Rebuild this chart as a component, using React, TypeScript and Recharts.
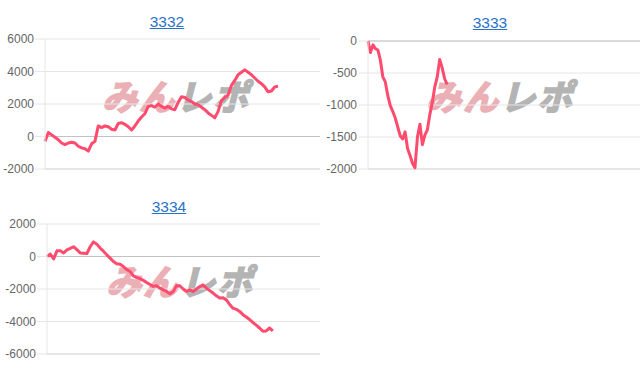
import { LineChart, Line, XAxis, YAxis, CartesianGrid, ReferenceLine } from 'recharts';

// 収支推移 (machine 3332 / 3333 / 3334)
const titles = ['3332', '3333', '3334'];

const values3332 = [
  -300, 250, 100, -50, -200, -400, -500, -400, -350, -400,
  -600, -700, -750, -900, -450, -300, 650, 550, 650, 600,
  450, 400, 800, 850, 750, 600, 400, 650, 950, 1200,
  1400, 1850, 1900, 1800, 2000, 1850, 1750, 1850, 1700, 1650,
  2100, 2450, 2400, 2250, 2150, 2000, 1950, 1800, 1650, 1450,
  1300, 1150, 1550, 2200, 2400, 2550, 3150, 3450, 3800, 3950,
  4100, 3950, 3800, 3600, 3400, 3250, 3050, 2750, 2800, 3050,
  3100,
];

const values3333 = [
  0, -180, -60, -120, -140, -300, -560, -640, -850, -1010,
  -1100, -1200, -1340, -1480, -1530, -1420, -1680, -1790, -1910, -1980,
  -1500, -1300, -1620, -1470, -1390, -1150, -960, -720, -560, -290,
  -420, -590, -680,
];

const values3334 = [
  0, 150, -150, 350, 350, 220, 410, 500, 600, 420,
  220, 200, 180, 600, 900, 760, 520, 330, 100, -100,
  -310, -450, -480, -620, -800, -920, -1190, -1280, -1360, -1470,
  -1600, -1720, -1840, -1800, -1950, -2050, -2150, -2300, -2150, -1800,
  -1800, -2000, -2150, -2050, -2150, -2000, -1850, -1750, -1950, -2100,
  -2250, -2420, -2560, -2540, -2670, -2950, -3180, -3250, -3380, -3580,
  -3720, -3880, -4060, -4220, -4400, -4600, -4580, -4400, -4580,
];

const ticks3332 = [-2000, 0, 2000, 4000, 6000];
const ticks3333 = [-2000, -1500, -1000, -500, 0];
const ticks3334 = [-6000, -4000, -2000, 0, 2000];

const LINE = '#ff4b6e';
const GRID = '#e6e6e6';

function toRows(values: number[]) {
  return values.map((v, i) => ({ x: i, v }));
}

function Watermark({ left, top }: { left: number; top: number }) {
  return (
    <div
      style={{
        position: 'absolute',
        left,
        top,
        fontFamily: '"Noto Sans CJK JP", sans-serif',
        fontWeight: 700,
        fontSize: 35,
        lineHeight: '34px',
        letterSpacing: 2,
        whiteSpace: 'nowrap',
        transform: 'skewX(-14deg)',
      }}
    >
      <span style={{ color: '#eab0b6', WebkitTextStroke: '2px #eab0b6' }}>みん</span>
      <span style={{ color: '#b4b4b4', WebkitTextStroke: '2px #b4b4b4' }}>レポ</span>
    </div>
  );
}

function Title({ text, cx, top }: { text: string; cx: number; top: number }) {
  return (
    <a
      href="#"
      style={{
        position: 'absolute',
        left: cx - 40,
        top,
        width: 80,
        textAlign: 'center',
        fontFamily: '"Liberation Sans", Arial, sans-serif',
        fontSize: 15.5,
        lineHeight: '15px',
        color: '#2a72c8',
        textDecoration: 'underline',
      }}
    >
      {text}
    </a>
  );
}

function MiniChart({
  values,
  ticks,
  xMax,
  yWidth,
  width,
  marginTop,
}: {
  values: number[];
  ticks: number[];
  xMax: number;
  yWidth: number;
  width: number;
  marginTop: number;
}) {
  const min = ticks[0];
  const max = ticks[ticks.length - 1];
  return (
    <LineChart
      width={width}
      height={180}
      data={toRows(values)}
      margin={{ top: marginTop, right: 0, bottom: 11, left: 0 }}
    >
      <CartesianGrid stroke={GRID} vertical={false} />
      <XAxis dataKey="x" type="number" domain={[0, xMax]} hide />
      <YAxis
        width={yWidth}
        domain={[min, max]}
        ticks={ticks}
        interval={0}
        tickSize={10}
        tickMargin={1}
        axisLine={{ stroke: GRID }}
        tickLine={{ stroke: GRID }}
        tick={{ fill: '#666', fontSize: 12, fontFamily: '"Liberation Sans", Arial, sans-serif' }}
      />
      <ReferenceLine y={min} stroke="#d9d9d9" />
      <ReferenceLine y={0} stroke="#c2c2c2" />
      <Line
        dataKey="v"
        type="linear"
        stroke={LINE}
        strokeWidth={3}
        strokeLinejoin="round"
        dot={false}
        isAnimationActive={false}
      />
    </LineChart>
  );
}

export default function App() {
  return (
    <div
      style={{
        position: 'absolute',
        left: 0,
        top: 0,
        width: 640,
        height: 372,
        background: '#fff',
        overflow: 'hidden',
      }}
    >
      <Watermark left={106} top={78} />
      <Watermark left={430} top={78} />
      <Watermark left={110} top={263} />

      <Title text={titles[0]} cx={167} top={14} />
      <Title text={titles[1]} cx={490} top={15} />
      <Title text={titles[2]} cx={169} top={199} />

      <div style={{ position: 'absolute', left: 0, top: 0 }}>
        <MiniChart values={values3332} ticks={ticks3332} xMax={82.6} yWidth={45} width={320} marginTop={39} />
      </div>
      <div style={{ position: 'absolute', left: 320, top: 0 }}>
        <MiniChart values={values3333} ticks={ticks3333} xMax={110} yWidth={48} width={320} marginTop={41} />
      </div>
      <div style={{ position: 'absolute', left: 0, top: 185 }}>
        <MiniChart values={values3334} ticks={ticks3334} xMax={82.2} yWidth={47} width={320} marginTop={39} />
      </div>
    </div>
  );
}
